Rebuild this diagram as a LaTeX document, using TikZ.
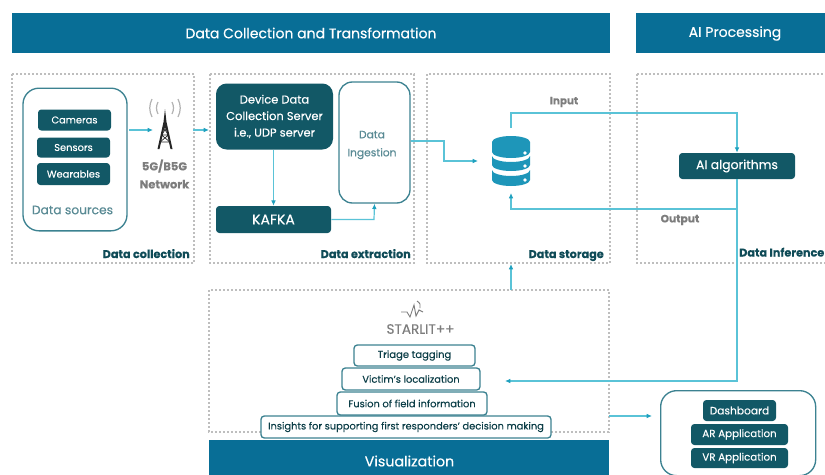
\documentclass[tikz,border=0pt]{standalone}
\usepackage{fontspec}
\setmainfont[FakeBold=0.25]{Poppins}
\usetikzlibrary{arrows.meta}
\definecolor{hdr}{RGB}{8,110,150}
\definecolor{teal}{RGB}{18,88,102}
\definecolor{edge}{RGB}{60,130,145}
\definecolor{wire}{RGB}{90,195,215}
\definecolor{tip}{RGB}{30,160,190}
\definecolor{dashc}{RGB}{190,190,190}
\definecolor{graytxt}{RGB}{125,125,125}
\definecolor{dbc}{RGB}{30,150,185}
\tikzset{
 x=0.75pt,y=-0.75pt,
 header/.style={fill=hdr,text=white,minimum height=30pt,inner sep=0pt},
 headtext/.style={text=white,inner sep=0pt,font=\fontsize{10.5}{12}\selectfont},
 zone/.style={draw=dashc,line width=1pt,dash pattern=on 1.5pt off 1.5pt},
 darkbox/.style={fill=teal,text=white,rounded corners=2.5pt,inner sep=0pt,align=center,font=\fontsize{7.4}{9}\selectfont},
 outline/.style={draw=edge,line width=1pt,fill=white,rounded corners=10pt,inner sep=0pt,align=center},
 step box/.style={draw=edge,line width=1pt,fill=white,rounded corners=2.5pt,inner sep=0pt,text=teal!70!black,font=\fontsize{7.4}{8}\selectfont},
 zonelabel/.style={anchor=base east,text=teal!85!black,font=\fontsize{8.4}{9}\selectfont\bfseries,inner sep=0pt},
 wirel/.style={draw=wire,line width=0.9pt},
 wirea/.style={wirel,-{Latex[length=4pt,width=3.5pt,color=tip]}},
 graylabel/.style={text=graytxt,font=\fontsize{7.8}{13.5}\selectfont\bfseries,inner sep=0pt,align=center},
}
\begin{document}
\begin{tikzpicture}
\useasboundingbox (0,0) rectangle (825,475);
% zones
\draw[zone] (12,74) rectangle (194,263);
\draw[zone] (210,74) rectangle (414,263);
\draw[zone] (427,74) rectangle (610,263);
\draw[zone] (637,74) -- (830,74) (637,74) -- (637,263) -- (830,263);
\draw[zone] (209,290) rectangle (609,432);
% headers
\node[header,minimum width=448.5pt,anchor=north west] (h1) at (12,13) {};
\node[headtext] (h1t) at (311,33) {Data Collection and Transformation};
\node[header,minimum width=141.75pt,anchor=north west] (h2) at (636,13) {};
\node[headtext] (h2t) at (735,33.5) {AI Processing};
\node[header,minimum width=300pt,minimum height=26.25pt,anchor=north west] (h3) at (209,440) {};
\node[headtext,font=\fontsize{10.7}{12}\selectfont] (h3t) at (409.5,461) {Visualization};
% data sources
\node[outline,rounded corners=12pt,minimum width=78pt,minimum height=107pt] (src) at (75,159.5) {};
\node[darkbox,minimum width=54.75pt,minimum height=15.75pt] (cam) at (74.5,120) {Cameras};
\node[darkbox,minimum width=54.75pt,minimum height=15pt] (sen) at (73.5,147.5) {Sensors};
\node[darkbox,minimum width=54.75pt,minimum height=16.5pt] (wea) at (73.5,174) {Wearables};
\node[text=teal!70!white,font=\fontsize{9.2}{10}\selectfont,inner sep=0pt] (srcl) at (72.5,210) {Data sources};
% antenna
\fill[black!85] (165,109) -- (166.5,122) -- (172.5,149) -- (170.5,149) -- (165.7,128) -- (164.3,128) -- (159.5,149) -- (157.5,149) -- (163.5,122) -- cycle;
\draw[black!85,line width=0.5pt] (163,127) -- (167,127) (161.5,135) -- (168.5,135) (160,142) -- (170,142) (163,127) -- (168.5,135) (167,127) -- (161.5,135) (161.5,135) -- (170,142) (168.5,135) -- (160,142);
\foreach \s in {1,-1}{
 \draw[black!30,line width=0.9pt] (165+\s*7,102) .. controls (165+\s*9,106) and (165+\s*9,110) .. (165+\s*7,114);
 \draw[black!30,line width=0.9pt] (165+\s*13,99) .. controls (165+\s*16,105) and (165+\s*16,111) .. (165+\s*13,117);
}
\node[graylabel,font=\fontsize{8.6}{13.5}\selectfont\bfseries] (net) at (164.5,174) {5G/B5G\\Network};
% extraction
\node[darkbox,rounded corners=8pt,minimum width=87.75pt,minimum height=49.5pt,font=\fontsize{8.6}{12.4}\selectfont] (dev) at (274.5,116.5) {Device Data\\Collection Server\\i.e., UDP server};
\node[outline,minimum width=53.25pt,minimum height=90.75pt] (ing) at (374.5,142.5) {};
\node[text=teal!70!white,font=\fontsize{8}{13.5}\selectfont,align=center,inner sep=0pt] (ingl) at (372,145) {Data\\Ingestion};
\node[darkbox,minimum width=86.25pt,minimum height=20.25pt,font=\fontsize{10.5}{12}\selectfont] (kaf) at (273.5,219.5) {KAFKA};
% database
\fill[dbc] (492,142) -- (492,152) arc[start angle=180,end angle=360,x radius=19,y radius=-6] -- (530,142) arc[start angle=0,end angle=180,x radius=19,y radius=-6] -- cycle;
\fill[dbc] (492,156) -- (492,165) arc[start angle=180,end angle=360,x radius=19,y radius=-6] -- (530,156) arc[start angle=360,end angle=180,x radius=19,y radius=-6] -- cycle;
\fill[dbc] (492,170) -- (492,180) arc[start angle=180,end angle=360,x radius=19,y radius=-6] -- (530,170) arc[start angle=360,end angle=180,x radius=19,y radius=-6] -- cycle;
\fill[white] (525,153) circle (1.8) (525,166) circle (1.8) (525,180) circle (1.8);
% AI
\node[darkbox,minimum width=87pt,minimum height=19.5pt,font=\fontsize{9.3}{11}\selectfont] (ai) at (737,166) {AI algorithms};
% pyramid
\node[font=\fontsize{10.2}{12}\selectfont,text=graytxt,inner sep=0pt] (star) at (420.5,329) {STARLIT++};
\draw[graytxt,line width=0.7pt] (401,312) -- (407,312) -- (410,317) -- (414,305) -- (416,316) -- (419,310) -- (423,312);
\draw[graytxt,line width=0.7pt] (417,301) .. controls (420,303) and (421,305) .. (420,308);
\node[step box,minimum width=90.75pt,minimum height=15.75pt,font=\fontsize{7.5}{8}\selectfont] (tri) at (414.5,355.5) {Triage tagging};
\node[step box,minimum width=103.5pt,minimum height=16.5pt] (vic) at (411,379) {Victim's localization};
\node[step box,minimum width=112.5pt,minimum height=17.25pt] (fus) at (412,403.5) {Fusion of field information};
\node[step box,minimum width=217.5pt,minimum height=16.5pt] (ins) at (406,427) {Insights for supporting first responders' decision making};
% apps
\node[outline,rounded corners=12pt,minimum width=116.25pt,minimum height=63.75pt,anchor=north west] (app) at (660,390) {};
\node[darkbox,minimum width=54.75pt,minimum height=15.75pt,font=\fontsize{8}{9}\selectfont] (das) at (739.5,410.5) {Dashboard};
\node[darkbox,minimum width=72.75pt,minimum height=15.75pt,font=\fontsize{7.7}{9}\selectfont] (arr) at (739.5,434.5) {AR Application};
\node[darkbox,minimum width=72.75pt,minimum height=15pt,font=\fontsize{7.7}{9}\selectfont] (vrr) at (739.5,458) {VR Application};
% zone labels
\node[zonelabel] (zl1) at (190,258) {Data collection};
\node[zonelabel] (zl2) at (411,258) {Data extraction};
\node[zonelabel] (zl3) at (604,258) {Data storage};
\node[zonelabel] (zl4) at (824.5,256.5) {Data Inference};
% wire labels
\node[graylabel] (in) at (564,102) {Input};
\node[graylabel,font=\fontsize{8}{9}\selectfont\bfseries] (out) at (680,220) {Output};
% connectors
\coordinate (p1) at (129,130);
\coordinate (p2) at (153,130);
\coordinate (p3) at (193,130);
\coordinate (p4) at (209,130);
\draw[wirea] (p1) -- (p2);
\draw[wirea] (p3) -- (p4);
\draw[wirea,line width=0.7pt] (dev.south -| kaf.north) -- (kaf.north);
\draw[wirea] (kaf.east) -- (374,219.5) -- (ing.south);
\coordinate (dbin) at (478,161);
\draw[wirea] (ing.east |- 0,141) -- (444,141) -- (444,161) -- (dbin);
\coordinate (dbtop) at (511,128);
\draw[wirea] (dbtop) -- (511,113) -- (737,113) -- (ai.north);
\coordinate (dbbot) at (511,193);
\draw[wirea] (737,209) -- (511,209) -- (dbbot);
\coordinate (vis) at (505,381);
\draw[wirea] (ai.south) -- (737,381) -- (vis);
\coordinate (vtop) at (511,290);
\coordinate (stbot) at (511,264);
\draw[wirea] (vtop) -- (stbot);
\coordinate (vr) at (609,416);
\coordinate (ve) at (652,416);
\draw[wirea] (vr) -- (ve);
\end{tikzpicture}
\end{document}
